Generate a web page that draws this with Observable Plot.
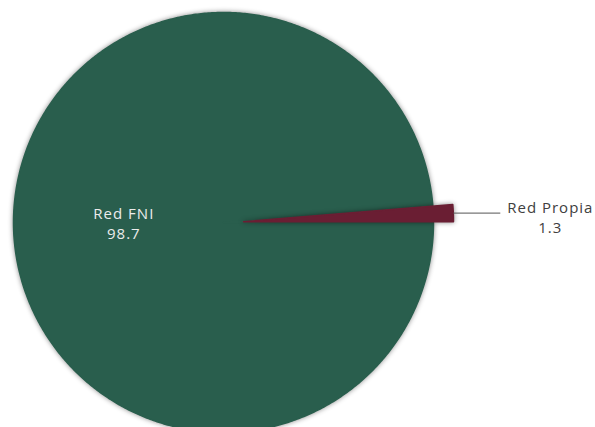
<!DOCTYPE html>
<html>
<head>
<meta charset="utf-8">
<script src="https://cdn.jsdelivr.net/npm/d3@7"></script>
<script src="https://cdn.jsdelivr.net/npm/@observablehq/plot@0.6"></script>
<style>
  html, body { margin: 0; padding: 0; background: #fff; }
  #chart svg { display: block; }
  #chart g[aria-label="line"] path { filter: drop-shadow(0px 0px 2.5px rgba(0,0,0,0.45)); }
  #chart g[aria-label="text"] text { letter-spacing: 1px; }
</style>
</head>
<body>
<div id="chart"></div>
<script>
// ---- data ----
const categories = ["Red FNI", "Red Propia"];
const values = [98.7, 1.3];
const valueLabels = ["98.7", "1.3"];
const colors = ["#295e4d", "#6a1e33"];

// ---- layout ----
const W = 595, H = 427;
const cx = 223, cy = 222, R = 210;   // pixel centre & radius of the pie
const explode = [0, 20];             // pixel offset of each slice
const font = "'Open Sans', sans-serif";
const fs = 15, half = 10.25;         // font size, half line spacing (px)

const arcs = d3.pie().sort(null)
  .startAngle(Math.PI / 2).endAngle(Math.PI / 2 + 2 * Math.PI)(values);

const polys = [];
const info = arcs.map((a, i) => {
  const mid = (a.startAngle + a.endAngle) / 2;
  const off = explode[i] / R;
  const ox = off * Math.sin(mid), oy = off * Math.cos(mid);
  polys.push({name: categories[i], x: ox, y: oy});
  const n = Math.max(2, Math.ceil((a.endAngle - a.startAngle) / (Math.PI / 360)));
  for (let k = 0; k <= n; k++) {
    const t = a.startAngle + (a.endAngle - a.startAngle) * k / n;
    polys.push({name: categories[i], x: ox + Math.sin(t), y: oy + Math.cos(t)});
  }
  return {mid, ox, oy};
});

// inside label for the big slice
const g = info[0];
const insideR = 0.475;
const gx = insideR * Math.sin(g.mid), gy = insideR * Math.cos(g.mid) + 2.5 / R;

// outside label + leader for the small slice
const s = info[1];
const ex = s.ox + Math.sin(s.mid), ey = s.oy + Math.cos(s.mid);
const leader = [{x1: ex, y1: ey, x2: ex + 47 / R, y2: ey}];
const ox2 = ex + 97 / R, oy2 = ey - 5 / R;

const labels = [
  {x: gx, y: gy + half / R, text: categories[0], fill: "#ececec"},
  {x: gx, y: gy - half / R, text: valueLabels[0], fill: "#ececec"},
  {x: ox2, y: oy2 + half / R, text: categories[1], fill: "#404040"},
  {x: ox2, y: oy2 - half / R, text: valueLabels[1], fill: "#404040"}
];

const chart = Plot.plot({
  width: W, height: H,
  margin: 0,
  style: {fontFamily: font, background: "#fff"},
  x: {domain: [-cx / R, (W - cx) / R], axis: null},
  y: {domain: [(cy - H) / R, cy / R], axis: null},
  color: {domain: categories, range: colors},
  marks: [
    Plot.line(polys, {x: "x", y: "y", z: "name", fill: "name", stroke: "name", strokeWidth: 1.5,
      strokeLinejoin: "round", curve: "linear-closed"}),
    Plot.link(leader, {x1: "x1", y1: "y1", x2: "x2", y2: "y2", stroke: "#555", strokeWidth: 1}),
    Plot.text(labels, {x: "x", y: "y", text: "text", fill: d => d.fill, fontSize: fs,
      textAnchor: "middle", lineAnchor: "middle"})
  ]
});
document.getElementById("chart").appendChild(chart);
</script>
</body>
</html>
